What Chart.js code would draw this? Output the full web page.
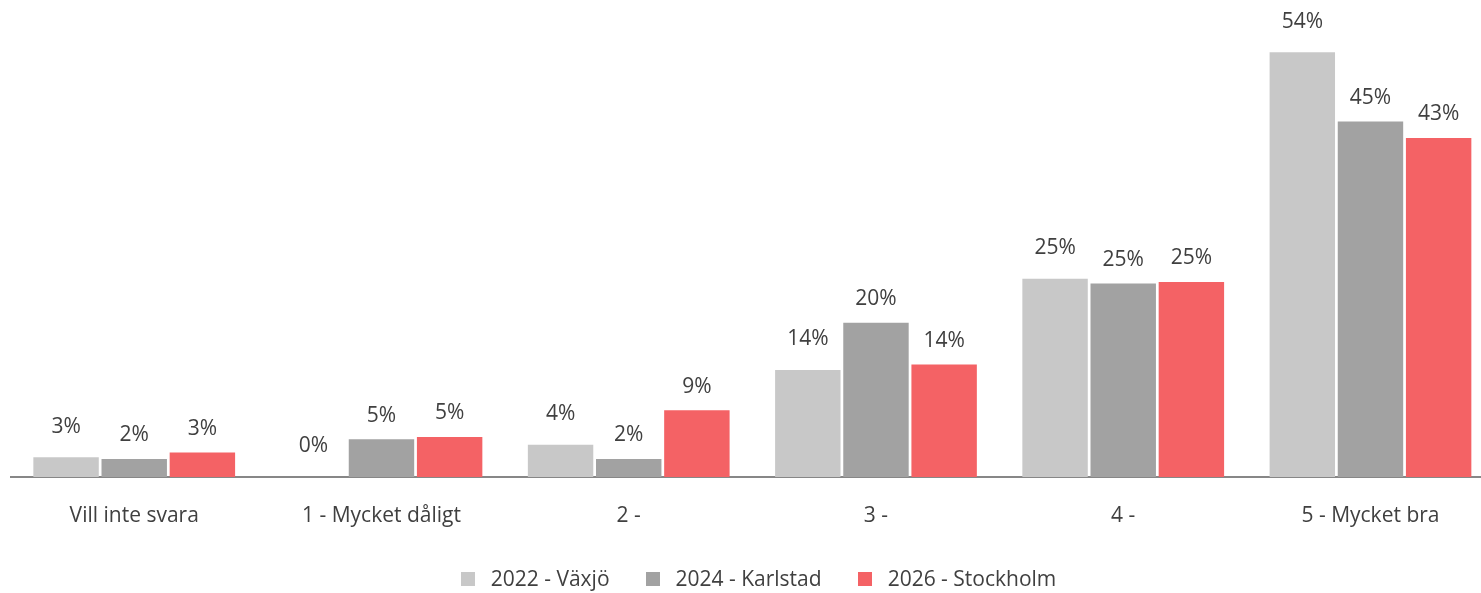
<!DOCTYPE html>
<html>
<head>
<meta charset="utf-8">
<script src="https://cdn.jsdelivr.net/npm/chart.js@4.4.0/dist/chart.umd.min.js"></script>
<style>
  html, body { margin: 0; padding: 0; overflow: hidden; background: #ffffff; width: 1481px; height: 593px; }
  #wrap { position: absolute; left: 0; top: 0; width: 1495px; height: 593px; }
  canvas { display: block; }
</style>
</head>
<body>
<div id="wrap"><canvas id="c" width="1495" height="593"></canvas></div>
<script>
// ---- data ----
const categories = ["Vill inte svara", "1 - Mycket dåligt", "2 -", "3 -", "4 -", "5 - Mycket bra"];
const seriesNames = ["2022 - Växjö", "2024 - Karlstad", "2026 - Stockholm"];
const vaxjo     = [2.5, 0.0, 4.1, 13.6, 25.2, 54.0];
const karlstad  = [2.3, 4.8, 2.3, 19.6, 24.6, 45.2];
const stockholm = [3.1, 5.1, 8.5, 14.3, 24.8, 43.1];

// ---- styles ----
const colors = ["#C8C8C8", "#A2A2A2", "#F46265"];
const FONT = '"Open Sans", "DejaVu Sans", sans-serif';
const TEXT = "#404040";

const dataLabels = {
  id: "dataLabels",
  afterDatasetsDraw(chart) {
    const ctx = chart.ctx;
    const offsets = [30.5, 23.5, 23.5];
    ctx.save();
    ctx.font = "21px " + FONT;
    ctx.fillStyle = TEXT;
    ctx.textAlign = "center";
    ctx.textBaseline = "middle";
    chart.data.datasets.forEach((ds, i) => {
      const meta = chart.getDatasetMeta(i);
      meta.data.forEach((el, j) => {
        ctx.fillText(Math.round(ds.data[j]) + "%", el.x, el.y - offsets[i]);
      });
    });
    ctx.restore();
  }
};

const customLegend = {
  id: "customLegend",
  afterDraw(chart) {
    const ctx = chart.ctx;
    const box = 14, gapText = 16, gapItem = 36;
    const cx = 758.5, cy = 579;
    ctx.save();
    ctx.font = "21px " + FONT;
    ctx.textBaseline = "middle";
    ctx.textAlign = "left";
    const items = chart.data.datasets.map(ds => ({
      label: ds.label, color: ds.backgroundColor, w: ctx.measureText(ds.label).width
    }));
    let total = 0;
    items.forEach((it, i) => { total += box + gapText + it.w + (i < items.length - 1 ? gapItem : 0); });
    let x = cx - total / 2;
    items.forEach(it => {
      ctx.fillStyle = it.color;
      ctx.fillRect(Math.round(x), Math.round(cy - box / 2), box, box);
      ctx.fillStyle = TEXT;
      ctx.fillText(it.label, x + box + gapText, cy + 1);
      x += box + gapText + it.w + gapItem;
    });
    ctx.restore();
  }
};

new Chart(document.getElementById("c"), {
  type: "bar",
  data: {
    labels: categories,
    datasets: [
      { label: seriesNames[0], data: vaxjo, backgroundColor: colors[0] },
      { label: seriesNames[1], data: karlstad, backgroundColor: colors[1] },
      { label: seriesNames[2], data: stockholm, backgroundColor: colors[2] }
    ]
  },
  options: {
    responsive: false,
    animation: false,
    devicePixelRatio: 1,
    datasets: { bar: { categoryPercentage: 0.827, barPercentage: 0.96 } },
    layout: { padding: { left: 10.6, right: 0.9, top: 5, bottom: 0 } },
    plugins: { legend: { display: false }, tooltip: { enabled: false } },
    scales: {
      x: {
        grid: { display: false, drawTicks: false },
        border: { display: true, color: "#878787", width: 2 },
        ticks: { font: { family: FONT, size: 21 }, color: TEXT, padding: 26, maxRotation: 0, autoSkip: false },
        afterFit(scale) { scale.height = 116; }
      },
      y: { display: false, min: 0, max: 60 }
    }
  },
  plugins: [dataLabels, customLegend]
});
</script>
</body>
</html>
